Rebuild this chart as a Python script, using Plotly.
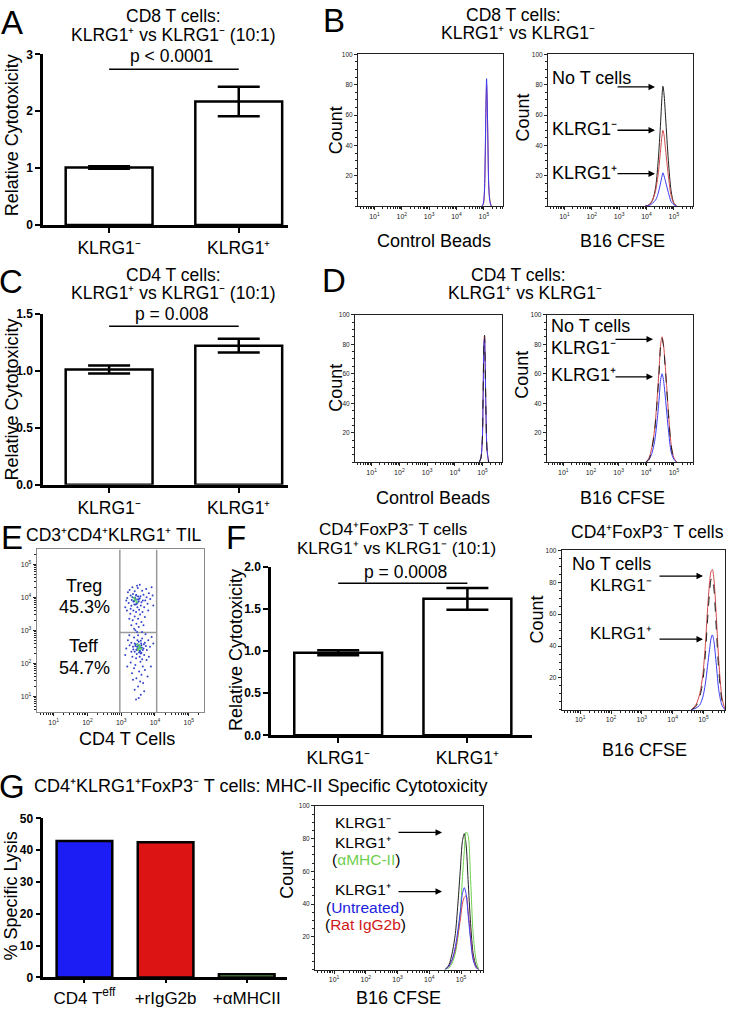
import math
import plotly.graph_objects as go

W, H = 733, 1014
FONT = "Arial, Liberation Sans, sans-serif"
P, M = "\u207a", "\u207b"   # superscript plus / minus

# ---------------- data ----------------
klrg_cats = [f"KLRG1{M}", f"KLRG1{P}"]
a_vals = [1.01, 2.17]
a_errs = [0.02, 0.26]
a_pline = 2.74
c_vals = [1.01, 1.22]
c_errs = [0.035, 0.06]
c_pline = 1.39
f_vals = [0.98, 1.62]
f_errs = [0.03, 0.13]
f_pline = 1.805
g_cats = ["CD4 T<sup>eff</sup>", "+rIgG2b", "+αMHCII"]
g_vals = [42.9, 42.5, 1.0]
g_colors = ["#1c1cf5", "#dc1414", "#7cc860"]

# histograms: x in log10 fluorescence, y = count
b_beads_x = [4.93, 4.98, 5.02, 5.05, 5.08, 5.10, 5.12, 5.15, 5.18, 5.22, 5.27]
b_beads_red = [0, 1, 8, 30, 65, 80, 70, 42, 14, 4, 0]
b_beads_blue = [0, 2, 10, 35, 70, 84, 72, 40, 12, 3, 0]

b_cfse_x = [3.95, 4.10, 4.22, 4.33, 4.42, 4.50, 4.57, 4.60, 4.64, 4.70, 4.80, 4.90, 5.00, 5.10]
b_cfse_black = [0, 1, 4, 12, 28, 50, 73, 79, 74, 58, 30, 10, 2, 0]
b_cfse_red = [0, 1, 4, 10, 20, 34, 47, 50, 47, 37, 20, 7, 2, 0]
b_cfse_blue = [0, 0.5, 2, 4, 8, 14, 20, 22, 20, 16, 9, 3, 1, 0]

d_beads_x = [4.88, 4.94, 4.99, 5.02, 5.05, 5.07, 5.09, 5.12, 5.16, 5.22]
d_beads_red = [0, 3, 15, 47, 82, 86, 72, 36, 9, 0]
d_beads_blue = [0, 3, 15, 45, 80, 84, 70, 35, 8, 0]

d_cfse_x = [3.98, 4.10, 4.20, 4.30, 4.38, 4.46, 4.52, 4.57, 4.62, 4.70, 4.80, 4.90, 5.00, 5.10]
d_cfse_red = [0, 3, 10, 22, 40, 62, 80, 85, 80, 62, 34, 12, 3, 0]
d_cfse_black = [0, 2, 9, 21, 38, 60, 79, 84, 79, 60, 33, 11, 2, 0]
d_cfse_blue = [0, 2, 6, 14, 26, 42, 56, 60, 56, 42, 22, 7, 2, 0]

f_cfse_x = [4.60, 4.75, 4.88, 4.98, 5.06, 5.13, 5.20, 5.25, 5.29, 5.34, 5.42, 5.50, 5.60, 5.70]
f_cfse_red = [0, 3, 10, 22, 40, 62, 80, 87, 88, 82, 58, 30, 8, 0]
f_cfse_black = [0, 2, 8, 18, 34, 55, 74, 82, 83, 76, 50, 24, 6, 0]
f_cfse_blue = [0, 1, 3, 8, 16, 27, 38, 45, 47, 43, 28, 12, 3, 0]

g_cfse_x = [4.50, 4.62, 4.72, 4.82, 4.90, 4.98, 5.04, 5.10, 5.16, 5.22, 5.30, 5.38, 5.48, 5.56]
g_cfse_black = [0, 3, 10, 22, 40, 62, 78, 83, 76, 55, 28, 10, 2, 0]
g_cfse_green = [0, 1, 4, 10, 20, 36, 55, 72, 84, 82, 55, 22, 5, 0]
g_cfse_blue = [0, 2, 6, 14, 24, 36, 46, 50, 46, 34, 18, 6, 1, 0]
g_cfse_red = [0, 2, 6, 12, 21, 31, 40, 44, 45, 36, 20, 7, 1, 0]

# panel E flow dot plot (log10 units)
treg_x = [3.42, 3.38, 3.50, 3.31, 3.46, 3.55, 3.28, 3.60, 3.35, 3.48, 3.22, 3.66, 3.40, 3.53, 3.18,
          3.71, 3.44, 3.30, 3.62, 3.25, 3.58, 3.36, 3.75, 3.15, 3.49, 3.68, 3.27, 3.40, 3.82, 3.20,
          3.56, 3.34, 3.78, 3.45, 3.63, 3.90, 3.12, 3.52, 3.38, 3.70, 3.86, 3.24, 3.60, 3.47, 3.93,
          3.30, 3.66, 3.80, 3.42, 3.55, 3.17, 3.74, 3.33, 3.95, 3.50, 3.28, 3.64, 3.39, 3.52, 3.45,
          3.41, 3.47, 3.36, 3.44, 3.52, 3.33, 3.49, 3.39, 3.57, 3.43]
treg_y = [3.95, 3.88, 4.02, 3.92, 3.80, 3.97, 4.05, 3.85, 4.10, 3.70, 3.83, 4.08, 4.18, 3.62, 3.98,
          3.90, 3.55, 3.74, 4.20, 4.22, 3.75, 3.60, 4.00, 3.90, 4.28, 3.70, 3.50, 3.42, 4.12, 4.15,
          3.48, 3.30, 3.80, 3.20, 3.55, 4.30, 3.70, 3.10, 3.05, 3.40, 3.95, 3.35, 3.25, 4.35, 4.05,
          3.15, 3.15, 3.60, 3.00, 4.38, 3.60, 4.25, 4.30, 3.75, 3.35, 3.65, 3.90, 3.78, 3.88, 4.05,
          3.99, 3.93, 3.87, 4.07, 3.94, 4.00, 3.84, 3.90, 4.03, 3.78]
teff_x = [3.52, 3.45, 3.60, 3.40, 3.58, 3.66, 3.35, 3.48, 3.70, 3.55, 3.30, 3.62, 3.44, 3.76, 3.38,
          3.50, 3.25, 3.68, 3.57, 3.80, 3.42, 3.33, 3.72, 3.20, 3.64, 3.47, 3.85, 3.28, 3.53, 3.38,
          3.75, 3.60, 3.15, 3.90, 3.45, 3.70, 3.32, 3.56, 3.82, 3.24, 3.50, 3.65, 3.40, 3.78, 3.58,
          3.35, 3.95, 3.12, 3.62, 3.48, 3.55, 3.42, 3.67, 3.36, 3.52, 3.60, 3.46, 3.73, 3.30, 3.58,
          3.44, 3.68, 3.52, 3.88, 3.18, 3.62, 3.40, 3.54, 3.49, 3.64,
          3.51, 3.56, 3.47, 3.61, 3.43, 3.53, 3.59, 3.50, 3.46, 3.57]
teff_y = [2.48, 2.40, 2.55, 2.60, 2.30, 2.45, 2.50, 2.70, 2.62, 2.20, 2.35, 2.75, 2.15, 2.40, 2.78,
          2.85, 2.55, 2.25, 2.05, 2.70, 1.95, 2.20, 2.88, 2.70, 1.90, 2.95, 2.50, 2.02, 1.75, 1.85,
          2.10, 1.65, 2.45, 2.80, 1.55, 1.80, 1.70, 1.45, 2.20, 2.85, 1.30, 1.40, 1.20, 1.60, 1.05,
          1.50, 2.60, 2.25, 2.95, 2.58, 2.38, 2.52, 2.58, 2.42, 2.65, 2.32, 2.28, 2.52, 2.62, 2.68,
          0.90, 1.15, 0.95, 1.90, 1.90, 2.12, 2.35, 2.55, 2.45, 2.40,
          2.44, 2.36, 2.50, 2.48, 2.57, 2.33, 2.60, 2.53, 2.42, 2.47]
dense_x = [3.42, 3.46, 3.38, 3.52, 3.55, 3.50, 3.58, 3.48]
dense_y = [3.92, 3.86, 3.98, 2.46, 2.52, 2.40, 2.44, 2.56]
gate_lo, gate_hi, gate_split = 2.96, 4.05, 2.93

# ---------------- helpers ----------------
def X(px):
    return px / W


def Y(py):
    return 1 - py / H


layout = dict(width=W, height=H, margin=dict(l=0, r=0, t=0, b=0),
              paper_bgcolor="white", plot_bgcolor="white", showlegend=False,
              font=dict(family=FONT, color="black"))
traces = []
anns = []


def names(i):
    return ("x" if i == 1 else f"x{i}"), ("y" if i == 1 else f"y{i}")


def bar_axes(i, xd, yd, xrange, yrange, yticks, yfmt, ticklen_x=5, xfont=17.5):
    xn, yn = names(i)
    layout["xaxis" + xn[1:]] = dict(
        domain=[X(xd[0]), X(xd[1])], anchor=yn, range=xrange, type="category",
        showline=True, linecolor="black", linewidth=2.5, ticks="outside", ticklen=ticklen_x,
        tickwidth=2, tickcolor="black", tickfont=dict(size=xfont, family=FONT, color="black"),
        showgrid=False, zeroline=False)
    layout["yaxis" + yn[1:]] = dict(
        domain=[Y(yd[0]), Y(yd[1])], anchor=xn, range=yrange, showline=True, linecolor="black",
        linewidth=2.5, ticks="outside", ticklen=5, tickwidth=2, tickcolor="black",
        tickvals=yticks, tickformat=yfmt,
        tickfont=dict(size=12, family=FONT, color="black", weight="bold"),
        showgrid=False, zeroline=False)


minor_log = [math.log10(k * 10 ** n) for n in range(0, 6) for k in range(2, 10)]
log_ticks = [1, 2, 3, 4, 5]
log_text = [f"10<sup>{n}</sup>" for n in log_ticks]


def flow_x(domain, anchor, rng, color="#222"):
    return dict(domain=domain, anchor=anchor, range=rng, showline=True, mirror=True,
                linecolor=color, linewidth=1, ticks="outside", ticklen=3, tickwidth=1,
                tickcolor="#222", tickvals=log_ticks, ticktext=log_text,
                tickfont=dict(size=7, family=FONT, color="#222"),
                minor=dict(tickvals=[v for v in minor_log if rng[0] < v < rng[1]],
                           ticks="outside", ticklen=2, tickcolor="#222"),
                showgrid=False, zeroline=False)


def hist_axes(i, xd, yd, rng=(0.4, 5.7)):
    xn, yn = names(i)
    layout["xaxis" + xn[1:]] = flow_x([X(xd[0]), X(xd[1])], yn, list(rng))
    layout["yaxis" + yn[1:]] = dict(
        domain=[Y(yd[0]), Y(yd[1])], anchor=xn, range=[0, 100], showline=True, mirror=True,
        linecolor="#222", linewidth=1, ticks="outside", ticklen=3, tickwidth=1, tickcolor="#222",
        tickvals=[20, 40, 60, 80, 100], tickfont=dict(size=6.5, family=FONT, color="#222"),
        minor=dict(dtick=5, ticks="outside", ticklen=2, tickcolor="#222"),
        showgrid=False, zeroline=False)


def curve(i, xs, ys, color, dash="solid", width=1):
    xn, yn = names(i)
    traces.append(go.Scatter(x=xs, y=ys, mode="lines", line=dict(color=color, width=width,
                             dash=dash, shape="spline", smoothing=0.8),
                             xaxis=xn, yaxis=yn, hoverinfo="skip"))


def txt(px, py, s, size=17.5, xanchor="center", color="black", angle=0):
    anns.append(dict(x=X(px), y=Y(py), xref="paper", yref="paper", text=s, showarrow=False,
                     font=dict(size=size, color=color, family=FONT), xanchor=xanchor,
                     yanchor="middle", textangle=angle, borderpad=0))


def arrow(x0, x1, py):
    anns.append(dict(x=X(x1), y=Y(py), ax=-(x1 - x0), ay=0, xref="paper", yref="paper",
                     axref="pixel", ayref="pixel", text="", showarrow=True, arrowhead=2,
                     arrowsize=1, arrowwidth=1.3, arrowcolor="black"))


def bars(i, cats, vals, errs, colors="white", width=0.67):
    xn, yn = names(i)
    err = dict(type="data", array=errs, color="black", thickness=2.5, width=21) if errs else None
    traces.append(go.Bar(x=cats, y=vals, width=width,
                         marker=dict(color=colors, line=dict(color="black", width=2.5)),
                         error_y=err, xaxis=xn, yaxis=yn, hoverinfo="skip"))


def pline(i, cats, yv):
    xn, yn = names(i)
    traces.append(go.Scatter(x=cats, y=[yv, yv], mode="lines",
                             line=dict(color="black", width=1.5), xaxis=xn, yaxis=yn,
                             hoverinfo="skip"))


BLUE, RED, BLACK, GREEN = "#3b3bf0", "#d04848", "#202020", "#6fd04f"

# ---------------- Panel A ----------------
bar_axes(1, (43, 288), (221, 48), [-0.51, 1.38], [0, 3], [0, 1, 2, 3], "d")
bars(1, klrg_cats, a_vals, a_errs)
pline(1, klrg_cats, a_pline)
txt(12, 16, "A", 33)
txt(173, 9, "CD8 T cells:")
txt(173, 28, f"KLRG1{P} vs KLRG1{M} (10:1)")
txt(171, 50, "p &lt; 0.0001")
txt(12, 130, "Relative Cytotoxicity", 18, angle=-90)

# ---------------- Panel B ----------------
hist_axes(2, (358, 503), (202, 48))
hist_axes(3, (548, 693), (202, 48))
curve(2, b_beads_x, b_beads_red, RED)
curve(2, b_beads_x, b_beads_blue, BLUE)
curve(3, b_cfse_x, b_cfse_black, BLACK)
curve(3, b_cfse_x, b_cfse_red, RED)
curve(3, b_cfse_x, b_cfse_blue, BLUE)
txt(334, 14, "B", 33)
txt(513, 8, "CD8 T cells:")
txt(518, 26, f"KLRG1{P} vs KLRG1{M}")
txt(336, 125, "Count", 18, angle=-90)
txt(523, 112, "Count", 18, angle=-90)
txt(434, 237, "Control Beads", 18)
txt(622, 237, "B16 CFSE", 18)
txt(551, 72, "No T cells", 18, xanchor="left")
txt(551, 124, f"KLRG1{M}", 18, xanchor="left")
txt(551, 168, f"KLRG1{P}", 18, xanchor="left")
arrow(616, 655, 81)
arrow(616, 655, 125)
arrow(616, 655, 169)

# ---------------- Panel C ----------------
bar_axes(4, (43, 288), (484.5, 311), [-0.51, 1.38], [0, 1.5], [0, 0.5, 1.0, 1.5], ".1f")
bars(4, klrg_cats, c_vals, c_errs)
pline(4, klrg_cats, c_pline)
txt(11, 278, "C", 33)
txt(173, 272, "CD4 T cells:")
txt(173, 290, f"KLRG1{P} vs KLRG1{M} (10:1)")
txt(171, 311, "p = 0.008")
txt(12, 398, "Relative Cytotoxicity", 18, angle=-90)

# ---------------- Panel D ----------------
hist_axes(5, (355, 502), (461.7, 312))
hist_axes(6, (546.7, 693.3), (461.7, 312))
curve(5, d_beads_x, d_beads_red, RED)
curve(5, d_beads_x, d_beads_blue, BLUE)
curve(5, d_beads_x, d_beads_red, BLACK, dash="dash")
curve(6, d_cfse_x, d_cfse_red, RED)
curve(6, d_cfse_x, d_cfse_blue, BLUE)
curve(6, d_cfse_x, d_cfse_black, BLACK, dash="dash")
txt(334, 277, "D", 33)
txt(518, 272, "CD4 T cells:")
txt(525, 290, f"KLRG1{P} vs KLRG1{M}")
txt(336, 386, "Count", 18, angle=-90)
txt(522, 373, "Count", 18, angle=-90)
txt(433, 498, "Control Beads", 18)
txt(622, 498, "B16 CFSE", 18)
txt(550, 323, "No T cells", 18, xanchor="left")
txt(550, 346, f"KLRG1{M}", 18, xanchor="left")
txt(550, 373, f"KLRG1{P}", 18, xanchor="left")
arrow(614, 653, 337)
arrow(614, 653, 375)

# ---------------- Panel E ----------------
layout["xaxis7"] = flow_x([X(36.7), X(204)], "y7", [0.5, 5.45], "#8a8a8a")
layout["yaxis7"] = flow_x([Y(715), Y(550)], "x7", [0.52, 5.45], "#8a8a8a")
for gx, gy in (([gate_lo, gate_lo], [0.52, 5.45]), ([gate_hi, gate_hi], [0.52, 5.45]),
               ([gate_lo, gate_hi], [gate_split, gate_split])):
    traces.append(go.Scatter(x=gx, y=gy, mode="lines", line=dict(color="#9a9a9a", width=1.5),
                             xaxis="x7", yaxis="y7", hoverinfo="skip"))
traces.append(go.Scatter(x=treg_x + teff_x, y=treg_y + teff_y, mode="markers",
                         marker=dict(color="#3344cc", size=2), xaxis="x7", yaxis="y7",
                         hoverinfo="skip"))
traces.append(go.Scatter(x=dense_x, y=dense_y, mode="markers",
                         marker=dict(color="#5fcf6a", size=2.5), xaxis="x7", yaxis="y7",
                         hoverinfo="skip"))
txt(0, 538, "E", 33, xanchor="left")
txt(25, 535, f"CD3{P}CD4{P}KLRG1{P} TIL", 17.5, xanchor="left")
txt(84, 587, "Treg", 18)
txt(84, 608, "45.3%", 18)
txt(84, 648, "Teff", 18)
txt(84, 670, "54.7%", 18)
txt(127, 742, "CD4 T Cells", 18)

# ---------------- Panel F ----------------
bar_axes(8, (271, 532), (738.5, 567.7), [-0.52, 1.5], [0, 2.0], [0, 0.5, 1.0, 1.5, 2.0], ".1f")
bars(8, klrg_cats, f_vals, f_errs, width=0.68)
pline(8, klrg_cats, f_pline)
txt(236, 538, "F", 33)
txt(393, 529.5, f"CD4{P}FoxP3{M} T cells", 17)
txt(396, 549, f"KLRG1{P} vs KLRG1{M} (10:1)", 17)
txt(405, 573, "p = 0.0008")
txt(236, 652, "Relative Cytotoxicity", 18, angle=-90)

hist_axes(9, (561.7, 725), (712.7, 551))
curve(9, f_cfse_x, f_cfse_red, RED)
curve(9, f_cfse_x, f_cfse_blue, BLUE)
curve(9, f_cfse_x, f_cfse_black, BLACK, dash="dash")
txt(647, 532, f"CD4{P}FoxP3{M} T cells")
txt(537, 621, "Count", 18, angle=-90)
txt(644, 753, "B16 CFSE", 18)
txt(571, 565, "No T cells", 18, xanchor="left")
txt(589, 587, f"KLRG1{M}", 17, xanchor="left")
txt(589, 635, f"KLRG1{P}", 17, xanchor="left")
arrow(658, 703, 577)
arrow(658, 703, 641)

# ---------------- Panel G ----------------
bar_axes(10, (43.3, 287.3), (984, 822.7), [-0.507, 2.5], [0, 50], [0, 10, 20, 30, 40, 50], "d",
         ticklen_x=3, xfont=17)
bars(10, g_cats, g_vals, None, colors=g_colors, width=0.686)
txt(12, 790, "G", 33)
txt(33, 790, f"CD4{P}KLRG1{P}FoxP3{M} T cells: MHC-II Specific Cytotoxicity", 18, xanchor="left")
txt(11, 902, "% Specific Lysis", 18, angle=-90)

hist_axes(11, (315, 483.3), (976, 810))
curve(11, g_cfse_x, g_cfse_black, BLACK)
curve(11, g_cfse_x, g_cfse_green, GREEN)
curve(11, g_cfse_x, g_cfse_red, RED)
curve(11, g_cfse_x, g_cfse_blue, BLUE)
txt(287, 880, "Count", 18, angle=-90)
txt(398, 1005, "B16 CFSE", 18)
txt(363, 827, f"KLRG1{M}", 15.5)
txt(363, 847, f"KLRG1{P}", 15.5)
txt(366, 864, "(<span style='color:#6fd04f'>αMHC-II</span>)", 15.5)
txt(363, 895, f"KLRG1{P}", 15.5)
txt(365, 913, "(<span style='color:#2020e0'>Untreated</span>)", 15.5)
txt(365, 930, "(<span style='color:#d01818'>Rat IgG2b</span>)", 15.5)
arrow(397, 442, 837)
arrow(397, 442, 897)

layout["annotations"] = anns
fig = go.Figure(data=traces, layout=layout)
fig.write_html("out.html", config={"displayModeBar": False},
               post_script="document.body.style.margin='0';")
